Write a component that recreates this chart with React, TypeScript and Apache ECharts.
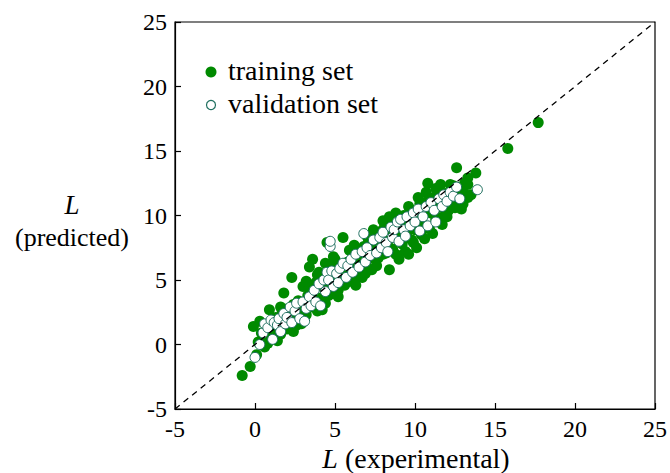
import React, { useEffect, useRef } from "react";
import * as echarts from "echarts";

const trainingSet: number[][] = [
  [-0.8, -2.4], [-0.3, -1.7], [0.1, -0.8], [0.2, 0.2], [-0.1, 1.4], [0.4, 0.9], [0.6, -0.2], [0.7, 0.6],
  [0.9, 2.7], [1.0, 1.2], [1.2, 0.5], [1.3, 2.1], [1.5, 1.4], [1.6, 0.8], [1.7, 2.6], [1.8, 4.0],
  [1.9, 1.9], [2.0, 1.2], [2.1, 2.8], [2.3, 5.2], [2.2, 1.7], [2.4, 3.1], [2.5, 2.2], [2.6, 1.5],
  [2.7, 3.4], [2.8, 2.6], [3.0, 4.5], [3.0, 1.9], [3.1, 3.0], [3.2, 2.3], [3.3, 3.8], [3.4, 6.0],
  [3.5, 2.9], [3.6, 6.6], [3.6, 4.1], [3.7, 3.3], [3.8, 4.8], [3.9, 2.6], [4.0, 5.6], [4.1, 3.6],
  [4.2, 2.7], [4.3, 4.4], [4.4, 6.3], [4.5, 7.9], [4.5, 5.0], [4.6, 3.8], [4.7, 5.7], [4.8, 4.5],
  [4.9, 6.8], [5.0, 5.2], [5.1, 3.9], [5.2, 3.7], [5.3, 6.1], [5.4, 5.4], [5.5, 8.3], [5.6, 4.6],
  [5.7, 4.8], [5.8, 6.4], [5.9, 5.6], [6.0, 4.9], [6.1, 7.0], [6.2, 6.0], [6.3, 5.3], [6.4, 7.2],
  [6.5, 6.5], [6.6, 5.6], [6.7, 5.2], [6.8, 7.6], [6.9, 6.8], [7.0, 6.0], [7.1, 8.0], [7.2, 7.1],
  [7.3, 5.8], [7.4, 7.7], [7.5, 6.6], [7.6, 8.4], [7.7, 6.7], [7.8, 7.5], [7.9, 8.8], [8.0, 7.0],
  [8.1, 9.2], [8.2, 9.5], [8.2, 7.1], [8.3, 8.0], [8.4, 5.8], [8.5, 8.9], [8.6, 7.4], [8.7, 9.7],
  [8.8, 10.2], [8.9, 8.3], [9.0, 6.6], [9.1, 9.3], [9.2, 7.8], [9.3, 10.0], [9.4, 7.2], [9.5, 8.7],
  [9.6, 10.7], [9.7, 9.4], [9.8, 8.1], [9.9, 10.3], [10.0, 8.9], [10.1, 7.5], [10.2, 9.8], [10.3, 10.9],
  [10.4, 8.5], [10.5, 9.3], [10.6, 11.0], [10.7, 11.8], [10.8, 12.5], [10.9, 9.0], [11.0, 10.2], [11.1, 8.6],
  [11.2, 11.4], [11.3, 9.7], [11.4, 10.6], [11.5, 12.0], [11.6, 12.4], [11.7, 9.3], [11.8, 10.9], [11.9, 11.7],
  [12.0, 9.9], [12.1, 10.4], [12.2, 11.1], [12.3, 11.6], [12.4, 12.3], [12.5, 10.6], [12.6, 13.7], [12.7, 11.3],
  [12.8, 12.0], [12.9, 10.5], [13.0, 11.8], [13.1, 12.5], [13.3, 12.4], [13.3, 11.4], [13.5, 11.6], [13.8, 13.3],
  [15.8, 15.2], [17.7, 17.2],
  [0.5, 0.2], [1.1, 1.8], [1.4, 0.3], [2.0, 2.4], [2.9, 1.6], [3.4, 4.4], [4.0, 3.1], [4.8, 6.2],
  [5.2, 4.2], [5.9, 7.3], [6.3, 4.6], [7.0, 8.4], [7.6, 6.1], [8.0, 9.6], [8.8, 7.0], [9.6, 7.0],
  [10.2, 11.4], [10.9, 11.2], [11.6, 9.8], [12.2, 12.4], [13.0, 10.9],
  [0.3, 1.8], [0.8, 0.1], [1.6, 2.9], [2.4, 1.0], [3.2, 4.9], [3.9, 5.4], [4.4, 3.2], [5.0, 6.6],
  [5.6, 5.1], [6.2, 7.7], [6.9, 5.5], [7.4, 8.9], [8.4, 9.9], [9.2, 8.4], [9.9, 7.9], [10.6, 8.2],
  [11.3, 12.1], [11.9, 10.1], [12.6, 11.9], [13.3, 12.9]
];

const validationSet: number[][] = [
  [0.0, -1.0], [0.3, 0.0], [0.5, 0.9], [0.6, 1.6], [0.8, 1.3], [1.0, 1.9], [1.1, 0.4], [1.2, 1.7],
  [1.4, 1.5], [1.5, 2.0], [1.6, 1.0], [1.8, 2.4], [1.9, 1.6], [2.0, 2.1], [2.2, 2.9], [2.3, 1.7],
  [2.5, 2.6], [2.6, 3.2], [2.8, 2.0], [3.0, 3.3], [3.1, 1.8], [3.2, 2.8], [3.4, 3.7], [3.5, 3.0],
  [3.7, 4.2], [3.8, 3.3], [4.0, 4.7], [4.1, 3.0], [4.3, 5.0], [4.4, 4.1], [4.5, 5.6], [4.6, 5.0],
  [4.7, 7.6], [4.7, 8.0], [4.8, 5.7], [4.9, 4.5], [5.1, 5.5], [5.2, 4.8], [5.3, 5.9], [5.5, 6.3],
  [5.7, 5.2], [5.8, 6.1], [6.0, 6.6], [6.1, 5.6], [6.3, 7.0], [6.5, 6.0], [6.7, 7.2], [6.8, 8.6],
  [6.9, 6.4], [7.0, 7.5], [7.2, 6.9], [7.4, 8.1], [7.6, 7.1], [7.8, 8.3], [7.9, 7.5], [8.0, 8.7],
  [8.2, 7.9], [8.3, 7.2], [8.5, 9.1], [8.6, 8.3], [8.7, 8.9], [8.9, 9.5], [9.0, 8.0], [9.1, 9.7],
  [9.3, 8.9], [9.4, 8.4], [9.5, 9.9], [9.7, 9.2], [9.9, 10.2], [10.0, 9.5], [10.2, 10.5], [10.3, 8.8],
  [10.5, 9.9], [10.7, 10.7], [10.8, 9.2], [11.0, 11.0], [11.2, 10.4], [11.3, 9.5], [11.5, 11.3], [11.7, 10.7],
  [11.8, 11.6], [12.0, 11.1], [12.2, 11.8], [12.4, 11.5], [12.6, 12.2], [12.8, 11.3], [13.9, 12.0]
];

const identityLine: number[][] = [[-5, -5], [25, 25]];
const axisMin = -5;
const axisMax = 25;
const axisStep = 5;
const legendLabels = ["training set", "validation set"];

const GREEN = "#008a00";
const RING = "#1f6f5f";
const FONT = "Liberation Serif";

export default function App() {
  const ref = useRef<HTMLDivElement>(null);
  useEffect(() => {
    if (!ref.current) return;
    const chart = echarts.init(ref.current, undefined, { renderer: "svg" });
    const axisCommon = {
      type: "value" as const,
      min: axisMin,
      max: axisMax,
      interval: axisStep,
      splitLine: { show: false },
      axisLine: { show: true, onZero: false, lineStyle: { color: "#000", width: 1.2 } },
      axisTick: { show: true, inside: true, length: 6, lineStyle: { color: "#000", width: 1.2 } },
      axisLabel: { color: "#000", fontFamily: FONT, fontSize: 24, margin: 8 },
    };
    const txt = (text: string, x: number, y: number, size: number, align: string, italic = false) => ({
      type: "text",
      x,
      y,
      style: {
        text,
        fontFamily: FONT,
        fontSize: size,
        fontStyle: italic ? "italic" : "normal",
        fill: "#000",
        verticalAlign: "middle",
        align,
      },
    });
    chart.setOption({
      animation: false,
      backgroundColor: "#fff",
      grid: {
        left: 175,
        right: 12,
        top: 22,
        bottom: 64,
        show: true,
        borderColor: "#000",
        borderWidth: 1.2,
        backgroundColor: "transparent",
      },
      xAxis: { ...axisCommon },
      yAxis: { ...axisCommon },
      series: [
        {
          name: legendLabels[0],
          type: "scatter",
          data: trainingSet,
          symbol: "circle",
          symbolSize: 11,
          itemStyle: { color: GREEN, opacity: 1 },
          z: 2,
        },
        {
          name: legendLabels[1],
          type: "scatter",
          data: validationSet,
          symbol: "circle",
          symbolSize: 10,
          itemStyle: { color: "#fff", borderColor: RING, borderWidth: 1, opacity: 1 },
          z: 3,
        },
        {
          type: "line",
          data: identityLine,
          symbol: "none",
          lineStyle: { color: "#000", width: 1.3, type: [6, 5] },
          z: 4,
          silent: true,
        },
      ],
      graphic: [
        { type: "circle", shape: { cx: 211, cy: 72, r: 5.5 }, style: { fill: GREEN } },
        { type: "circle", shape: { cx: 211, cy: 105, r: 4.5 }, style: { fill: "#fff", stroke: RING, lineWidth: 1.2 } },
        txt(legendLabels[0], 228, 70, 28, "left"),
        txt(legendLabels[1], 228, 103, 28, "left"),
        txt("L", 72, 205, 27, "center", true),
        txt("(predicted)", 72, 237, 26, "center"),
        {
          type: "text",
          x: 416,
          y: 458,
          style: {
            text: "{i|L} (experimental)",
            fontFamily: FONT,
            fontSize: 28,
            fill: "#000",
            verticalAlign: "middle",
            align: "center",
            rich: { i: { fontStyle: "italic", fontSize: 28, fontFamily: FONT } },
          },
        },
      ],
    });
    return () => chart.dispose();
  }, []);
  return <div ref={ref} style={{ width: 670, height: 473, position: "fixed", left: 0, top: 0 }} />;
}
